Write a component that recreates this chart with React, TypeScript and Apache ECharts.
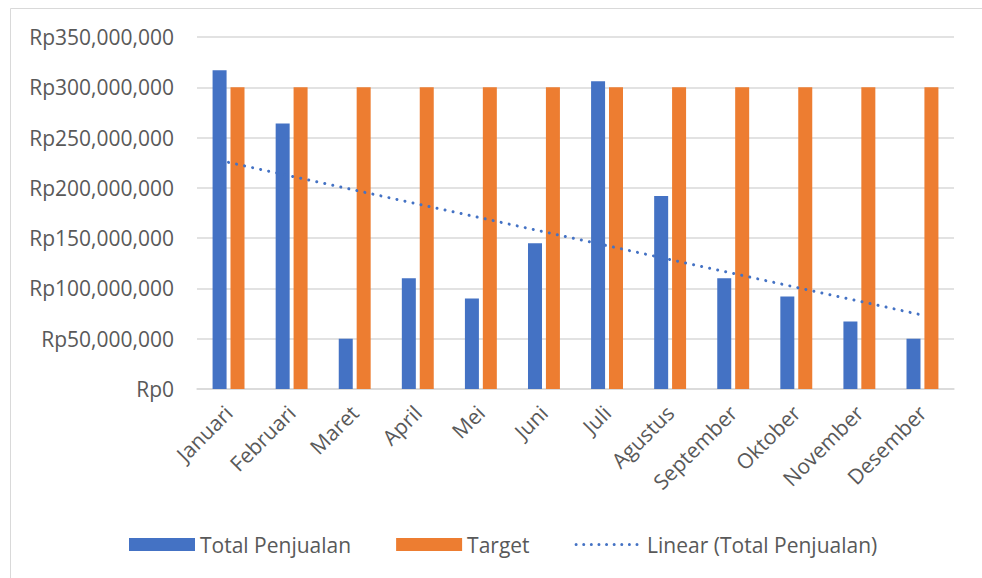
import React, { useEffect, useRef } from "react";
import * as echarts from "echarts";

const categories = ["Januari", "Februari", "Maret", "April", "Mei", "Juni", "Juli", "Agustus", "September", "Oktober", "November", "Desember"];
const totalPenjualan = [317000000, 264000000, 50000000, 110000000, 90000000, 145000000, 306000000, 192000000, 110000000, 92000000, 67000000, 50000000];
const target = [300000000, 300000000, 300000000, 300000000, 300000000, 300000000, 300000000, 300000000, 300000000, 300000000, 300000000, 300000000];
const yTicks = { min: 0, max: 350000000, interval: 50000000 };

// Linear trendline (least squares) of Total Penjualan, as the chart's "Linear" trend
function linearTrend(values: number[]): number[] {
  const n = values.length;
  const xs = values.map((_, i) => i + 1);
  const mx = xs.reduce((a, b) => a + b, 0) / n;
  const my = values.reduce((a, b) => a + b, 0) / n;
  let sxy = 0, sxx = 0;
  for (let i = 0; i < n; i++) {
    sxy += (xs[i] - mx) * (values[i] - my);
    sxx += (xs[i] - mx) * (xs[i] - mx);
  }
  const slope = sxy / sxx;
  return xs.map((x) => my + slope * (x - mx));
}

const FONT = "Open Sans";
const TEXT = "#595959";
const FS = 21;

export default function App() {
  const ref = useRef<HTMLDivElement>(null);
  useEffect(() => {
    if (!ref.current) return;
    const chart = echarts.init(ref.current, undefined, { renderer: "svg" });
    const trend = linearTrend(totalPenjualan);
    chart.setOption({
      animation: false,
      backgroundColor: "#ffffff",
      textStyle: { fontFamily: FONT },
      graphic: [
        { type: "line", shape: { x1: 10.5, y1: 8.5, x2: 982, y2: 8.5 }, style: { stroke: "#d9d9d9", lineWidth: 1 } },
        { type: "line", shape: { x1: 10.5, y1: 8.5, x2: 10.5, y2: 578 }, style: { stroke: "#d9d9d9", lineWidth: 1 } },
      ],
      grid: { left: 197, right: 28, top: 37, bottom: 189, containLabel: false },
      legend: {
        left: 124,
        top: 529,
        itemWidth: 66,
        itemHeight: 13,
        itemGap: 45,
        textStyle: { fontFamily: FONT, fontSize: FS, color: TEXT },
        data: [
          { name: "Total Penjualan", icon: "rect" },
          { name: "Target", icon: "rect" },
          {
            name: "Linear (Total Penjualan)",
            itemStyle: { color: "rgba(0,0,0,0)", borderWidth: 0 },
            lineStyle: { color: "#4472C4", width: 3, type: [0.01, 7.6], cap: "round" },
          },
        ],
      },
      xAxis: {
        type: "category",
        data: categories,
        axisLine: { lineStyle: { color: "#d9d9d9", width: 1.5 } },
        axisTick: { show: false },
        axisLabel: { rotate: 45, color: TEXT, fontFamily: FONT, fontSize: FS, margin: 20, interval: 0 },
      },
      yAxis: {
        type: "value",
        min: yTicks.min,
        max: yTicks.max,
        interval: yTicks.interval,
        axisLine: { show: false },
        axisTick: { show: false },
        splitLine: { lineStyle: { color: "#d9d9d9", width: 1.5 } },
        axisLabel: {
          color: TEXT,
          fontFamily: FONT,
          fontSize: FS,
          margin: 23,
          formatter: (v: number) => "Rp" + v.toLocaleString("en-US"),
        },
      },
      series: [
        {
          name: "Total Penjualan",
          type: "bar",
          data: totalPenjualan,
          barWidth: 14,
          barGap: "28%",
          itemStyle: { color: "#4472C4" },
        },
        {
          name: "Target",
          type: "bar",
          data: target,
          barWidth: 14,
          itemStyle: { color: "#ED7D31" },
        },
        {
          name: "Linear (Total Penjualan)",
          type: "line",
          data: trend,
          symbol: "none",
          itemStyle: { color: "#4472C4" },
          lineStyle: { color: "#4472C4", width: 3, type: [0.01, 8.2], cap: "round" },
          z: 5,
        },
      ],
    });
    return () => chart.dispose();
  }, []);
  return <div ref={ref} style={{ position: "fixed", left: 0, top: 0, width: 982, height: 578 }} />;
}
